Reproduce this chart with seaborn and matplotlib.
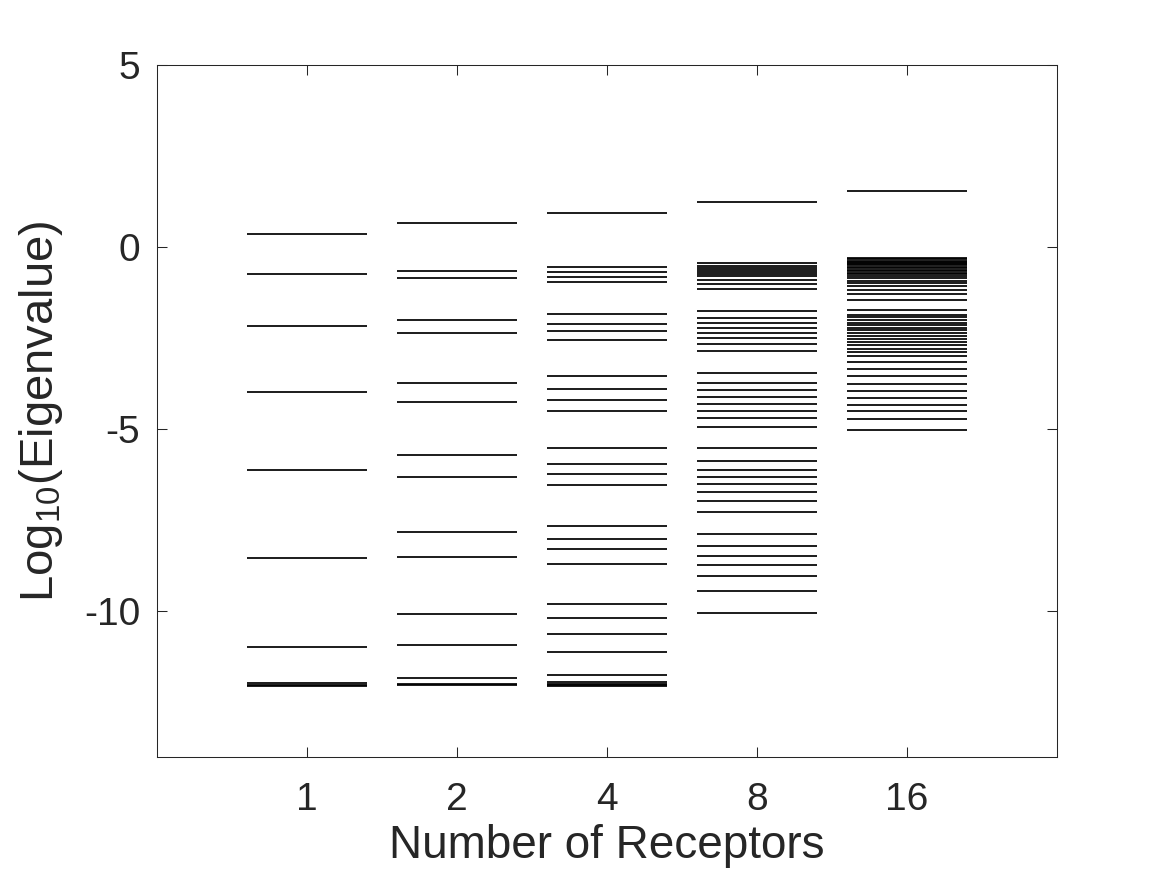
import pandas as pd
import matplotlib
matplotlib.use('Agg')
import matplotlib.pyplot as plt
import seaborn as sns

# log10 eigenvalues per number of receptors
receptors = ['1', '2', '4', '8', '16']
eig_1 = [0.35, -0.74, -2.16, -3.97, -6.12, -8.53, -10.98, -11.98, -12.02, -12.05]
eig_2 = [0.65, -0.66, -0.85, -1.99, -2.36, -3.72, -4.24, -5.72, -6.30, -7.81,
         -8.51, -10.07, -10.93, -11.84, -11.99, -12.03]
eig_4 = [0.94, -0.56, -0.68, -0.81, -0.96, -1.85, -2.10, -2.31, -2.55, -3.53,
         -3.89, -4.20, -4.50, -5.53, -5.96, -6.23, -6.54, -7.66, -8.02, -8.29,
         -8.70, -9.80, -10.19, -10.61, -11.12, -11.76, -11.93, -11.99, -12.03, -12.06]
eig_8 = [1.25, -0.45, -0.51, -0.57, -0.62, -0.68, -0.73, -0.80, -0.89, -1.01,
         -1.14, -1.76, -1.94, -2.09, -2.21, -2.35, -2.50, -2.65, -2.85, -3.46,
         -3.72, -3.93, -4.12, -4.31, -4.49, -4.69, -4.94, -5.53, -5.88, -6.12,
         -6.32, -6.51, -6.72, -6.97, -7.28, -7.88, -8.21, -8.47, -8.73, -9.04,
         -9.45, -10.05]
eig_16 = [1.55, -0.31, -0.34, -0.37, -0.40, -0.43, -0.46, -0.50, -0.54, -0.58,
          -0.62, -0.66, -0.70, -0.75, -0.80, -0.86, -0.92, -0.98, -1.08, -1.19,
          -1.30, -1.44, -1.74, -1.86, -1.93, -2.00, -2.08, -2.14, -2.21, -2.28,
          -2.36, -2.43, -2.51, -2.60, -2.70, -2.79, -2.88, -3.00, -3.16, -3.34,
          -3.53, -3.76, -3.96, -4.14, -4.33, -4.51, -4.72, -5.01]

all_eigs = [eig_1, eig_2, eig_4, eig_8, eig_16]
df = pd.DataFrame({
    'Receptors': [r for r, vals in zip(receptors, all_eigs) for _ in vals],
    'LogEig': [v for vals in all_eigs for v in vals],
})

sns.set_style('white')
plt.rcParams['font.family'] = ['Liberation Sans', 'DejaVu Sans']
plt.rcParams['mathtext.default'] = 'regular'
plt.rcParams['axes.unicode_minus'] = False

fig = plt.figure(figsize=(11.67, 8.75), dpi=100)
ax = fig.add_axes([0.1345, 0.1349, 0.7712, 0.7908])

# each eigenvalue drawn as a short horizontal dash
sns.stripplot(data=df, x='Receptors', y='LogEig', order=receptors, ax=ax,
              jitter=False, marker='_', size=86.4, linewidth=1.25,
              color='black', edgecolor='black')

ax.set_xlim(-1, 5)
ax.set_ylim(-14, 5)
ax.set_yticks([-10, -5, 0, 5])
ax.set_xticks(range(len(receptors)))
ax.set_xticklabels(receptors)

frame = '#262626'
for sp in ax.spines.values():
    sp.set_visible(True)
    sp.set_color(frame)
    sp.set_linewidth(0.75)
ax.tick_params(direction='in', length=7, width=0.75, colors=frame,
               labelcolor=frame, labelsize=28, top=True, right=True,
               left=True, bottom=True)
ax.tick_params(axis='x', pad=18)
ax.tick_params(axis='y', pad=12)

ax.set_xlabel('Number of Receptors', fontsize=33, color=frame, labelpad=4)
ax.set_ylabel(r'Log$_{10}$(Eigenvalue)', fontsize=34, color=frame, labelpad=14)

fig.savefig('out.png', dpi=100)
